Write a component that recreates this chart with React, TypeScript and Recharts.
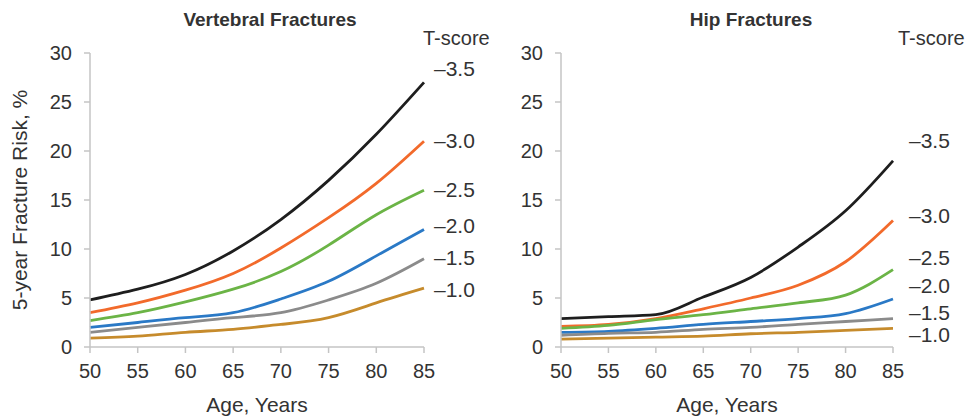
import React from 'react';
import { LineChart, Line, XAxis, YAxis } from 'recharts';

// Age categories and tick labels
const ages = [50, 55, 60, 65, 70, 75, 80, 85];
const yTicks = [0, 5, 10, 15, 20, 25, 30];
const tScores = ['–3.5', '–3.0', '–2.5', '–2.0', '–1.5', '–1.0'];

// Vertebral fractures, 5-year risk %
const vertT35 = [4.8, 5.9, 7.4, 9.8, 13.0, 17.0, 21.7, 27.0];
const vertT30 = [3.5, 4.5, 5.8, 7.5, 10.1, 13.2, 16.7, 21.0];
const vertT25 = [2.7, 3.5, 4.6, 5.9, 7.7, 10.4, 13.5, 16.0];
const vertT20 = [2.0, 2.5, 3.0, 3.5, 4.9, 6.7, 9.3, 12.0];
const vertT15 = [1.5, 2.0, 2.5, 3.0, 3.5, 4.8, 6.5, 9.0];
const vertT10 = [0.9, 1.1, 1.5, 1.8, 2.3, 3.0, 4.5, 6.0];

// Hip fractures, 5-year risk %
const hipT35 = [2.9, 3.1, 3.3, 5.1, 7.1, 10.2, 13.9, 19.0];
const hipT30 = [2.1, 2.3, 2.9, 3.9, 5.0, 6.3, 8.7, 12.9];
const hipT25 = [1.9, 2.2, 2.8, 3.3, 3.9, 4.5, 5.3, 7.9];
const hipT20 = [1.5, 1.6, 1.9, 2.3, 2.6, 2.9, 3.4, 4.9];
const hipT15 = [1.2, 1.4, 1.5, 1.8, 2.0, 2.3, 2.6, 2.9];
const hipT10 = [0.8, 0.9, 1.0, 1.1, 1.35, 1.5, 1.7, 1.9];

const colors = ['#1e1e1e', '#f26a2b', '#6bb446', '#2a79c6', '#8b8b8b', '#c68b2c'];
const keys = ['t35', 't30', 't25', 't20', 't15', 't10'];

const vertData = ages.map((age, i) => ({
  age,
  t35: vertT35[i],
  t30: vertT30[i],
  t25: vertT25[i],
  t20: vertT20[i],
  t15: vertT15[i],
  t10: vertT10[i],
}));

const hipData = ages.map((age, i) => ({
  age,
  t35: hipT35[i],
  t30: hipT30[i],
  t25: hipT25[i],
  t20: hipT20[i],
  t15: hipT15[i],
  t10: hipT10[i],
}));

const font = '"Liberation Sans", Arial, sans-serif';
const textColor = '#333333';
const axisColor = '#c4c4c4';
const tickStyle = { fontSize: 20, fill: textColor, fontFamily: font };

const Panel = ({ data, yLabel, yWidth, right, curve }: { data: any[]; yLabel?: string; yWidth: number; right: number; curve: any }) => (
  <LineChart width={500} height={420} data={data} margin={{ top: 53, right, bottom: 0, left: 0 }}>
    <XAxis
      dataKey="age"
      type="number"
      domain={[50, 85]}
      ticks={ages}
      height={73}
      tick={tickStyle}
      tickSize={6}
      tickMargin={11}
      axisLine={{ stroke: axisColor, strokeWidth: 1.5 }}
      tickLine={{ stroke: axisColor, strokeWidth: 1.5 }}
      label={{ value: 'Age, Years', position: 'insideBottom', offset: 8, style: { fontSize: 21, fill: textColor, fontFamily: font } }}
    />
    <YAxis
      type="number"
      domain={[0, 30]}
      ticks={yTicks}
      width={yWidth}
      tick={tickStyle}
      tickSize={6}
      tickMargin={12}
      axisLine={{ stroke: axisColor, strokeWidth: 1.5 }}
      tickLine={{ stroke: axisColor, strokeWidth: 1.5 }}
      label={
        yLabel
          ? { value: yLabel, angle: -90, position: 'insideLeft', offset: 20, style: { textAnchor: 'middle', fontSize: 21, fill: textColor, fontFamily: font } }
          : undefined
      }
    />
    {keys.map((k, i) => (
      <Line
        key={k}
        type={curve}
        dataKey={k}
        stroke={colors[i]}
        strokeWidth={2.8}
        dot={false}
        isAnimationActive={false}
      />
    ))}
  </LineChart>
);

// label baselines for the T-score column of each panel
const vertLabelY = [76, 148, 197, 233, 265, 297];
const hipLabelY = [148, 223, 265, 293, 320, 342];

export default function App() {
  return (
    <div style={{ position: 'absolute', left: 0, top: 0, width: 978, height: 420, background: '#fff', overflow: 'hidden' }}>
      <div style={{ position: 'absolute', left: 0, top: 0 }}>
        <Panel data={vertData} yLabel="5-year Fracture Risk, %" yWidth={90} right={76} curve="natural" />
      </div>
      <div style={{ position: 'absolute', left: 478, top: 0 }}>
        <Panel data={hipData} yWidth={83} right={85} curve="monotone" />
      </div>
      <svg width={978} height={420} style={{ position: 'absolute', left: 0, top: 0, pointerEvents: 'none' }}>
        <g fontFamily={font} fill={textColor}>
          <text x={270} y={26} textAnchor="middle" fontSize={19} fontWeight="bold">Vertebral Fractures</text>
          <text x={751} y={26} textAnchor="middle" fontSize={19} fontWeight="bold">Hip Fractures</text>
          <text x={423} y={45} fontSize={20}>T-score</text>
          <text x={898} y={45} fontSize={20}>T-score</text>
          {tScores.map((t, i) => (
            <text key={'v' + t} x={434} y={vertLabelY[i]} fontSize={21}>{t}</text>
          ))}
          {tScores.map((t, i) => (
            <text key={'h' + t} x={909} y={hipLabelY[i]} fontSize={21}>{t}</text>
          ))}
        </g>
      </svg>
    </div>
  );
}
